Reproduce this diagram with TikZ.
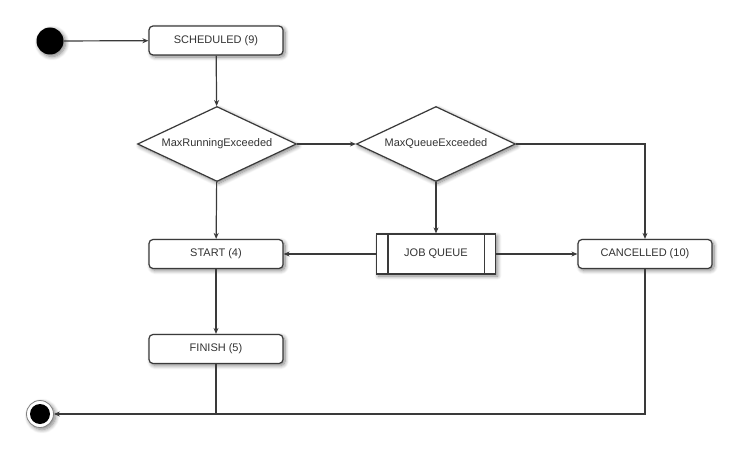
\documentclass[tikz,border=0pt]{standalone}
\usepackage{fontspec}
\setmainfont{Liberation Sans}
\usetikzlibrary{shapes.geometric,arrows.meta,calc,shadows.blur}
\definecolor{ln}{HTML}{3A3A3A}
\begin{document}
\begin{tikzpicture}[x=1pt,y=-1pt,
  font=\fontsize{11}{13}\selectfont, text=black!80,
  shd/.style={blur shadow={shadow blur steps=8, shadow xshift=2pt, shadow yshift=-2pt, shadow opacity=50, shadow blur radius=4pt}},
  statebox/.style={draw=ln, line width=1.2pt, fill=white, rounded corners=4pt, minimum width=134pt, minimum height=29pt, inner sep=0pt, shd},
  choice/.style={draw=ln, line width=1.2pt, fill=white, diamond, aspect=2.12, minimum width=159pt, minimum height=75pt, inner sep=0pt, shd},
  arr/.style={draw=ln, line width=1.2pt, -{Stealth[length=6pt,width=5pt]}},
  con/.style={draw=ln, line width=1.2pt}]
\useasboundingbox (0,0) rectangle (742,460);
\node[circle, fill=black, minimum size=27pt, inner sep=0pt, shd] (init) at (50,41) {};
\node[statebox] (sched) at (216,40.5) {SCHEDULED (9)};
\node[choice] (d1) at (217,144) {MaxRunningExceeded};
\node[choice] (d2) at (436,144) {MaxQueueExceeded};
\node[statebox] (startb) at (216,254) {START (4)};
\node[draw=ln, line width=1.2pt, fill=white, minimum width=119pt, minimum height=40pt, inner sep=0pt, shd] (jq) at (436,254) {JOB QUEUE};
\draw[con] ($(jq.north west)+(12,0)$) -- ($(jq.south west)+(12,0)$);
\draw[con] ($(jq.north east)+(-12,0)$) -- ($(jq.south east)+(-12,0)$);
\node[statebox] (canc) at (645,254) {CANCELLED (10)};
\node[statebox] (fin) at (216,349) {FINISH (5)};
\node[circle, draw=black!50, line width=0.8pt, fill=white, minimum size=27pt, inner sep=0pt, shd] (final) at (40,414) {};
\fill[black] (final.center) circle (10pt);
\draw[arr] (init) -- (sched);
\draw[arr] (sched) -- (d1);
\draw[arr] (d1) -- (d2);
\draw[arr] (d1) -- (startb);
\draw[arr] (d2) -- (jq);
\draw[arr] (d2.east) -| (canc.north);
\draw[arr] (jq) -- (startb);
\draw[arr] (jq) -- (canc);
\draw[arr] (startb) -- (fin);
\draw[con] (fin.south) -- (fin.south |- final.center);
\draw[arr] (canc.south) |- (final.east);
\end{tikzpicture}
\end{document}
